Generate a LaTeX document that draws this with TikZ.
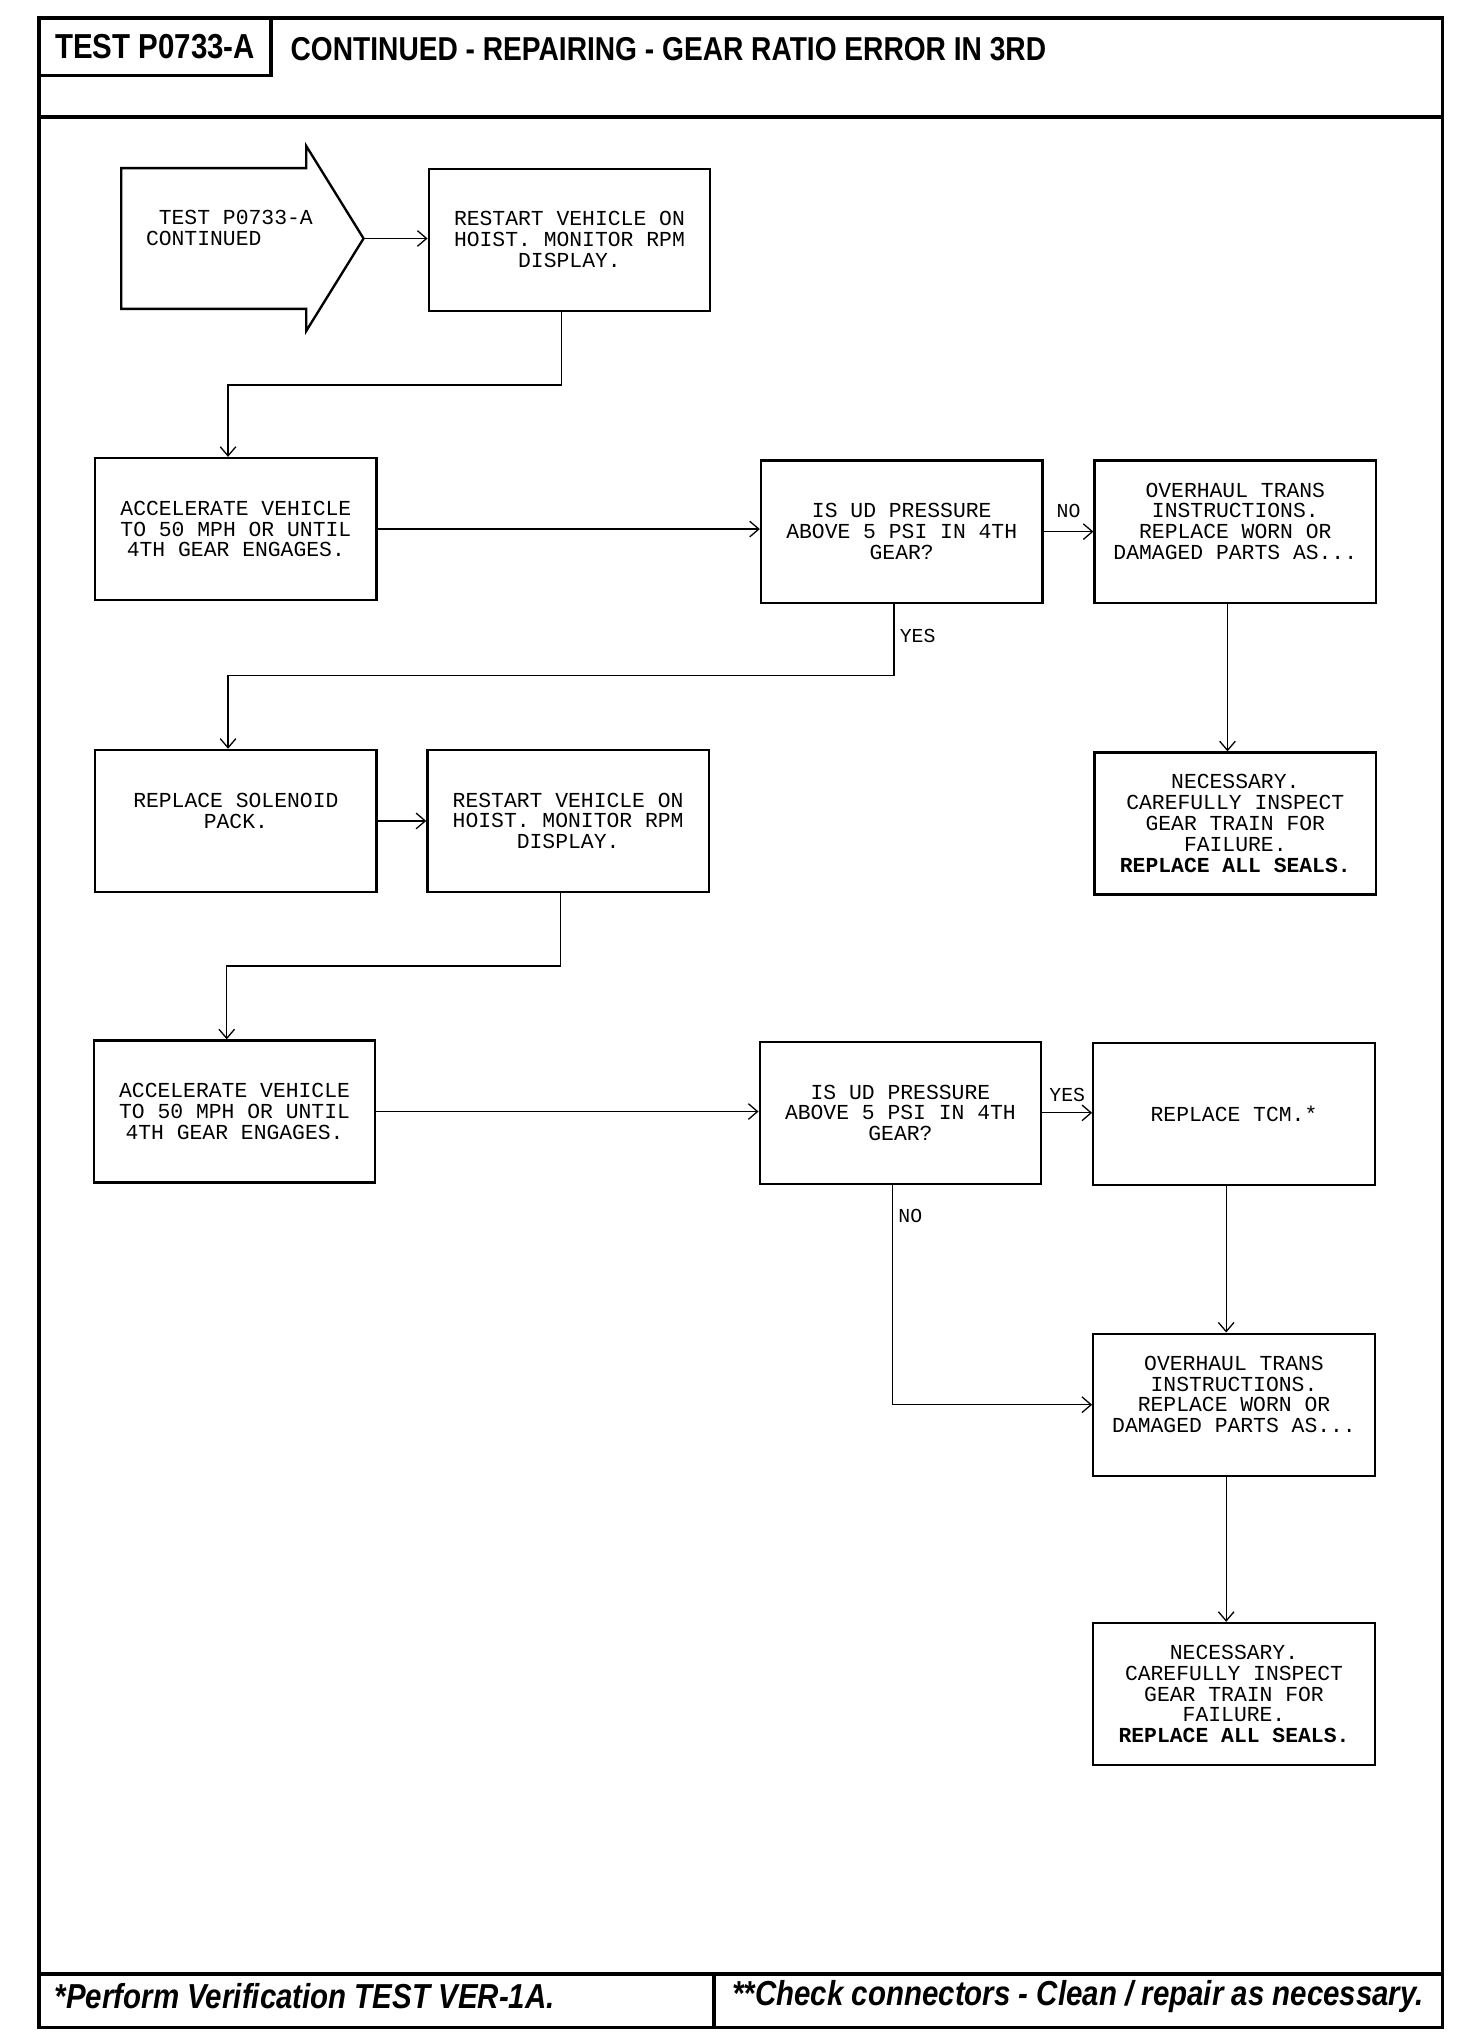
\documentclass[tikz,border=0pt]{standalone}
\usepackage{fontspec}
\usetikzlibrary{arrows.meta}
\newfontfamily\boxfont{Liberation Mono}
\newfontfamily\headfont[FakeStretch=0.85]{Liberation Sans}
\tikzset{
  stepbox/.style={draw, line width=0.9pt, minimum width=108pt, minimum height=54.5pt,
    inner sep=1pt, align=center, font=\boxfont\fontsize{8.2}{8}\selectfont},
  link/.style={line width=0.5pt, -{Straight Barb[length=3.5pt,width=6pt]}},
  tag/.style={font=\boxfont\fontsize{7.6}{8}\selectfont, inner sep=2pt},
  frame/.style={line width=1.4pt}
}
\begin{document}
\begin{tikzpicture}[x=0.5pt, y=-0.5pt]
  \useasboundingbox (0,0) rectangle (1130,1564);
  % page frame, header and footer
  \draw[frame] (30,14) rectangle (1107,1556);
  \draw[frame] (30,90) -- (1107,90);
  \draw[frame] (30,14) rectangle (208,58);
  \draw[frame] (30,1515) -- (1107,1515);
  \draw[frame] (548,1515) -- (548,1556);
  \node[font=\headfont\bfseries\fontsize{13.3}{14}\selectfont] (testno) at (119,36) {TEST P0733-A};
  \node[anchor=west, font=\headfont\bfseries\fontsize{12.7}{14}\selectfont] (title) at (216,38) {CONTINUED - REPAIRING - GEAR RATIO ERROR IN 3RD};
  \node[anchor=west, font=\headfont\bfseries\itshape\fontsize{13.3}{14}\selectfont] (noteA) at (35,1532) {*Perform Verification TEST VER-1A.};
  \node[anchor=west, font=\headfont\bfseries\itshape\fontsize{13.3}{14}\selectfont] (noteB) at (555,1532) {**Check connectors - Clean / repair as necessary.};

  % entry arrow
  \draw[line width=0.9pt] (93,129) -- (235,129) -- (235,112) -- (279,183) -- (235,254)
    -- (235,237) -- (93,237) -- cycle;
  \coordinate (starttip) at (279,183);
  \node[anchor=west, align=left, font=\boxfont\fontsize{8.2}{8}\selectfont] (start) at (105,175) {~TEST P0733-A\\CONTINUED};

  % boxes
  \node[stepbox] (r1) at (437,184) {RESTART VEHICLE ON\\HOIST. MONITOR RPM\\DISPLAY.};
  \node[stepbox] (a1) at (181,406) {ACCELERATE VEHICLE\\TO 50 MPH OR UNTIL\\4TH GEAR ENGAGES.};
  \node[stepbox] (q1) at (692,408) {IS UD PRESSURE\\ABOVE 5 PSI IN 4TH\\GEAR?};
  \node[stepbox] (o1) at (948,408) {OVERHAUL TRANS\\INSTRUCTIONS.\\REPLACE WORN OR\\DAMAGED PARTS AS...\\~};
  \node[stepbox] (n1) at (948,632) {NECESSARY.\\CAREFULLY INSPECT\\GEAR TRAIN FOR\\FAILURE.\\\textbf{REPLACE ALL SEALS.}};
  \node[stepbox] (s) at (181,630) {REPLACE SOLENOID\\PACK.\\~};
  \node[stepbox] (r2) at (436,630) {RESTART VEHICLE ON\\HOIST. MONITOR RPM\\DISPLAY.};
  \node[stepbox] (a2) at (180,853) {ACCELERATE VEHICLE\\TO 50 MPH OR UNTIL\\4TH GEAR ENGAGES.};
  \node[stepbox] (q2) at (691,854) {IS UD PRESSURE\\ABOVE 5 PSI IN 4TH\\GEAR?};
  \node[stepbox] (t) at (947,855) {REPLACE TCM.*};
  \node[stepbox] (o2) at (947,1078) {OVERHAUL TRANS\\INSTRUCTIONS.\\REPLACE WORN OR\\DAMAGED PARTS AS...\\~};
  \node[stepbox] (n2) at (947,1300) {NECESSARY.\\CAREFULLY INSPECT\\GEAR TRAIN FOR\\FAILURE.\\\textbf{REPLACE ALL SEALS.}};

  % connectors
  \draw[link] (starttip) -- (r1.west |- starttip);
  \draw[link] ([xshift=-3pt]r1.south) -- ++(0,56) -| ([xshift=-3pt]a1.north);
  \draw[link] (a1.east) -- (a1.east -| q1.west);
  \draw[link] (q1.east) -- node[tag, above, yshift=3pt] {NO} (q1.east -| o1.west);
  \draw[link] ([xshift=-3pt]o1.south) -- ([xshift=-3pt]n1.north);
  \draw[link] ([xshift=-3pt]q1.south) -- node[tag, right, pos=0.45] {YES} ++(0,55) -| ([xshift=-3pt]s.north);
  \draw[link] (s) -- (r2);
  \draw[link] ([xshift=-3pt]r2.south) -- ++(0,56) -| ([xshift=-3pt]a2.north);
  \draw[link] (a2.east) -- (a2.east -| q2.west);
  \draw[link] (q2.east) -- node[tag, above, yshift=2pt] {YES} (q2.east -| t.west);
  \draw[link] ([xshift=-3pt]t.south) -- ([xshift=-3pt]o2.north);
  \draw[link] ([xshift=-3pt]q2.south) |- node[tag, right, pos=0.07] {NO} (o2.west);
  \draw[link] ([xshift=-3pt]o2.south) -- ([xshift=-3pt]n2.north);
\end{tikzpicture}
\end{document}
